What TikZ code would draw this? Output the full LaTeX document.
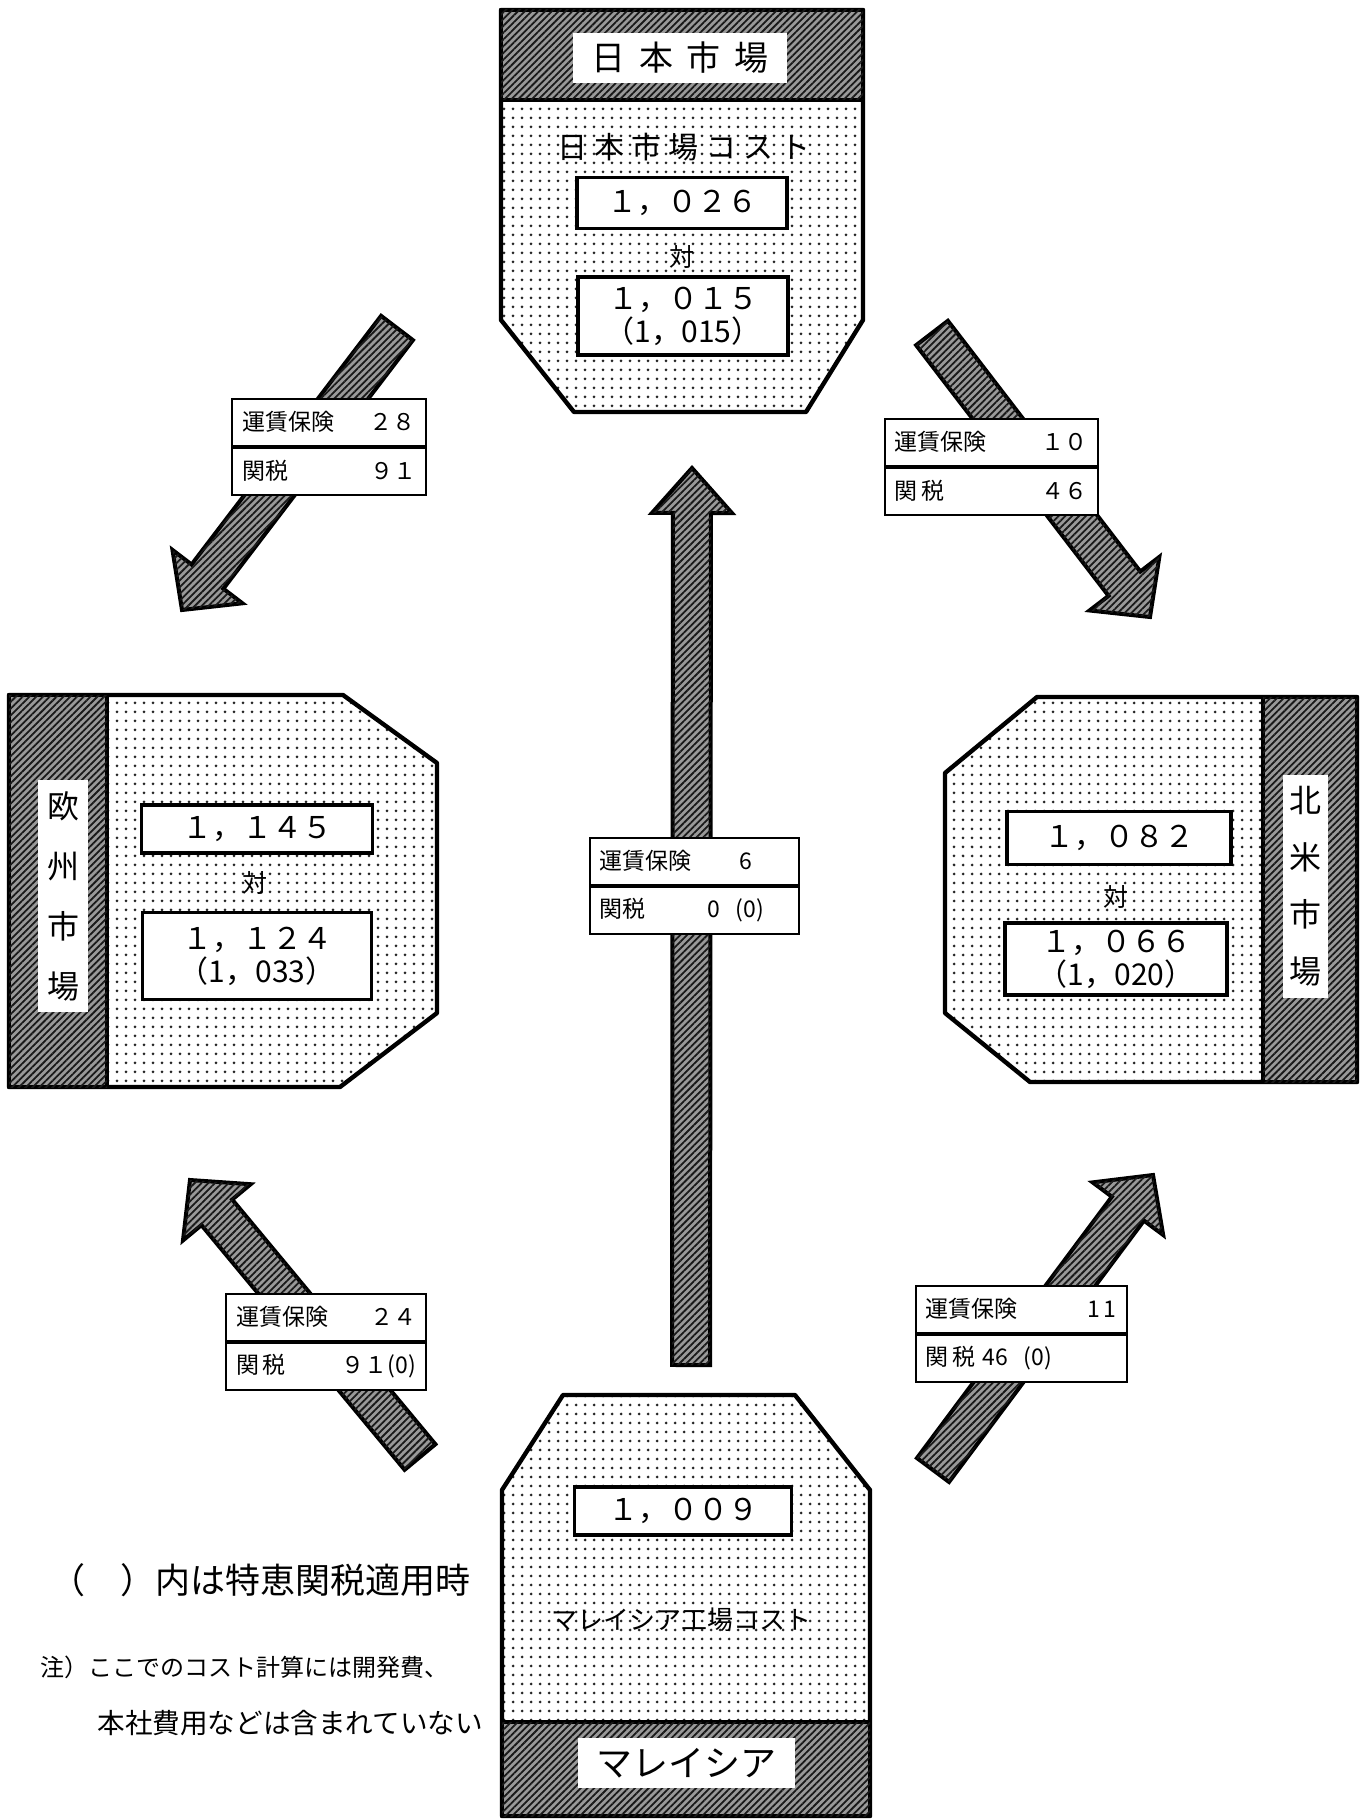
\documentclass[tikz,border=0pt]{standalone}
\usepackage{fontspec}
\setmainfont{Noto Sans CJK JP}
\usetikzlibrary{calc,positioning,patterns.meta}

\tikzset{
  dotfill/.style={pattern={Dots[radius=0.75pt,distance=4.5pt]},pattern color=black!85},
  hatch/.style={fill=black!40,postaction={pattern={Lines[angle=45,distance=2.4pt,line width=0.9pt]},pattern color=black!90}},
  frame/.style={draw=black,line width=2.2pt,line join=round},
  bandlabel/.style={fill=white,inner sep=0pt},
  valbox/.style={draw,line width=1.8pt,fill=white,minimum width=105pt,minimum height=25pt,
    inner sep=0pt,align=center,font=\fontsize{15}{16.5}\selectfont},
  tagrow/.style={draw,line width=1pt,fill=white,minimum height=23.5pt,inner ysep=0pt,
    inner xsep=5pt,text width=#1,font=\fontsize{11.5}{13}\selectfont},
  bigarrow/.style={hatch,draw=black,line width=2pt,line join=miter},
  versus/.style={font=\fontsize{12.5}{13}\selectfont},
}

% fat arrow: tail, tip, half shaft, half head, head length
\newcommand\fatarrow[5]{%
  \path[bigarrow] ($(#1)!#3!90:(#2)$) -- ($(#2)!#5!(#1)!#3!90:(#2)$)
    -- ($(#2)!#5!(#1)!#4!90:(#2)$) -- (#2) -- ($(#2)!#5!(#1)!#4!-90:(#2)$)
    -- ($(#2)!#5!(#1)!#3!-90:(#2)$) -- ($(#1)!#3!-90:(#2)$) -- cycle;}

\begin{document}
\begin{tikzpicture}[x=0.5pt,y=-0.5pt]
  \useasboundingbox (0,0) rectangle (1371,1819);
  \fill[white] (0,0) rectangle (1371,1819);

  % arrows
  \coordinate (ma-jp-s) at (691,1365);  \coordinate (ma-jp-e) at (692,468);
  \coordinate (jp-eu-s) at (397,328);   \coordinate (jp-eu-e) at (182,610);
  \coordinate (jp-na-s) at (932,333);   \coordinate (jp-na-e) at (1150,617);
  \coordinate (ma-eu-s) at (420,1457);  \coordinate (ma-eu-e) at (190,1180);
  \coordinate (ma-na-s) at (933,1470);  \coordinate (ma-na-e) at (1153,1175);
  \fatarrow{ma-jp-s}{ma-jp-e}{9.5pt}{20pt}{22.5pt}
  \fatarrow{jp-eu-s}{jp-eu-e}{10pt}{22pt}{21pt}
  \fatarrow{jp-na-s}{jp-na-e}{10pt}{22pt}{21pt}
  \fatarrow{ma-eu-s}{ma-eu-e}{10pt}{22pt}{21pt}
  \fatarrow{ma-na-s}{ma-na-e}{10pt}{22pt}{21pt}

  % cost labels on the arrows
  \node[tagrow=94.5pt] (c-a) at (694,861) {\makebox[70pt][l]{運賃保険}6};
  \node[tagrow=94.5pt, below=0pt of c-a] (c-b) {\makebox[54pt][l]{関税}0\ \ (0)};
  \node[tagrow=87pt] (ul-a) at (329,422) {運賃保険\hfill ２８};
  \node[tagrow=87pt, below=0pt of ul-a] (ul-b) {関税\hfill ９１};
  \node[tagrow=96.5pt] (ur-a) at (991,442) {運賃保険\hfill １０};
  \node[tagrow=96.5pt, below=0pt of ur-a] (ur-b) {関\,税\hfill ４６};
  \node[tagrow=90pt] (ll-a) at (326,1317) {運賃保険\hfill ２４};
  \node[tagrow=90pt, below=0pt of ll-a] (ll-b) {関\,税\hfill ９１(0)};
  \node[tagrow=95.5pt] (lr-a) at (1021,1309) {運賃保険\hfill 1\,1\hspace{6pt}};
  \node[tagrow=95.5pt, below=0pt of lr-a] (lr-b) {関\,税\ 46\ \ (0)};

  % Japan market
  \path[dotfill,frame] (501,10) -- (863,10) -- (863,320) -- (806,412) -- (574,412) -- (501,320) -- cycle;
  \path[hatch,frame] (501,10) rectangle (863,100);
  \node[bandlabel, minimum width=107pt, minimum height=25pt,
        font=\fontsize{17}{18}\selectfont\addfontfeatures{LetterSpace=40}] (jp-head) at (680,58) {日本市場};
  \node[font=\fontsize{15}{16}\selectfont\addfontfeatures{LetterSpace=24}] (jp-title) at (684,147) {日本市場コスト};
  \node[valbox, minimum height=25.5pt] (jp-v1) at (682,203) {１，０２６};
  \node[versus] (jp-vs) at (682,257) {対};
  \node[valbox, minimum height=39pt] (jp-v2) at (683,316) {１，０１５\\（1，015）};

  % Europe market
  \path[dotfill,frame] (9,695) -- (343,695) -- (437,763) -- (437,1013) -- (340,1087) -- (9,1087) -- cycle;
  \path[hatch,frame] (9,695) rectangle (107,1087);
  \node[bandlabel, minimum width=25pt, minimum height=116pt, align=center,
        font=\fontsize{16}{30}\selectfont] (eu-head) at (63,896) {欧\\州\\市\\場};
  \node[valbox, minimum width=115.5pt, minimum height=24pt] (eu-v1) at (257,829) {１，１４５};
  \node[versus] (eu-vs) at (255,883) {対};
  \node[valbox, minimum width=114.5pt, minimum height=43.5pt] (eu-v2) at (257,956) {１，１２４\\（1，033）};

  % North America market
  \path[dotfill,frame] (945,773) -- (1037,697) -- (1357,697) -- (1357,1082) -- (1030,1082) -- (945,1013) -- cycle;
  \path[hatch,frame] (1263,697) rectangle (1357,1082);
  \node[bandlabel, minimum width=22.5pt, minimum height=111.5pt, align=center,
        font=\fontsize{16}{28.5}\selectfont] (na-head) at (1305,886) {北\\米\\市\\場};
  \node[valbox, minimum width=112pt, minimum height=26.5pt] (na-v1) at (1119,838) {１，０８２};
  \node[versus] (na-vs) at (1116,897) {対};
  \node[valbox, minimum width=111pt, minimum height=36pt] (na-v2) at (1116,959) {１，０６６\\（1，020）};

  % Malaysia plant
  \path[dotfill,frame] (563,1395) -- (795,1395) -- (870,1490) -- (870,1816) -- (502,1816) -- (502,1490) -- cycle;
  \path[hatch,frame] (502,1722) rectangle (870,1816);
  \node[bandlabel, minimum width=108.5pt, minimum height=25pt,
        font=\fontsize{18}{19}\selectfont] (ma-head) at (686,1763) {マレイシア};
  \node[valbox, minimum width=108.5pt, minimum height=24pt] (ma-v) at (683,1511) {１，００９};
  \node[font=\fontsize{13}{14}\selectfont] (ma-title) at (681,1620) {マレイシア工場コスト};

  % notes
  \node[anchor=west, inner sep=0pt, font=\fontsize{17.5}{18}\selectfont] (note1) at (50,1580) {（　）内は特恵関税適用時};
  \node[anchor=west, inner sep=0pt, font=\fontsize{12}{13}\selectfont] (note2) at (40,1667) {注）ここでのコスト計算には開発費、};
  \node[anchor=west, inner sep=0pt, font=\fontsize{13.8}{14}\selectfont] (note3) at (97,1723) {本社費用などは含まれていない};
\end{tikzpicture}
\end{document}
